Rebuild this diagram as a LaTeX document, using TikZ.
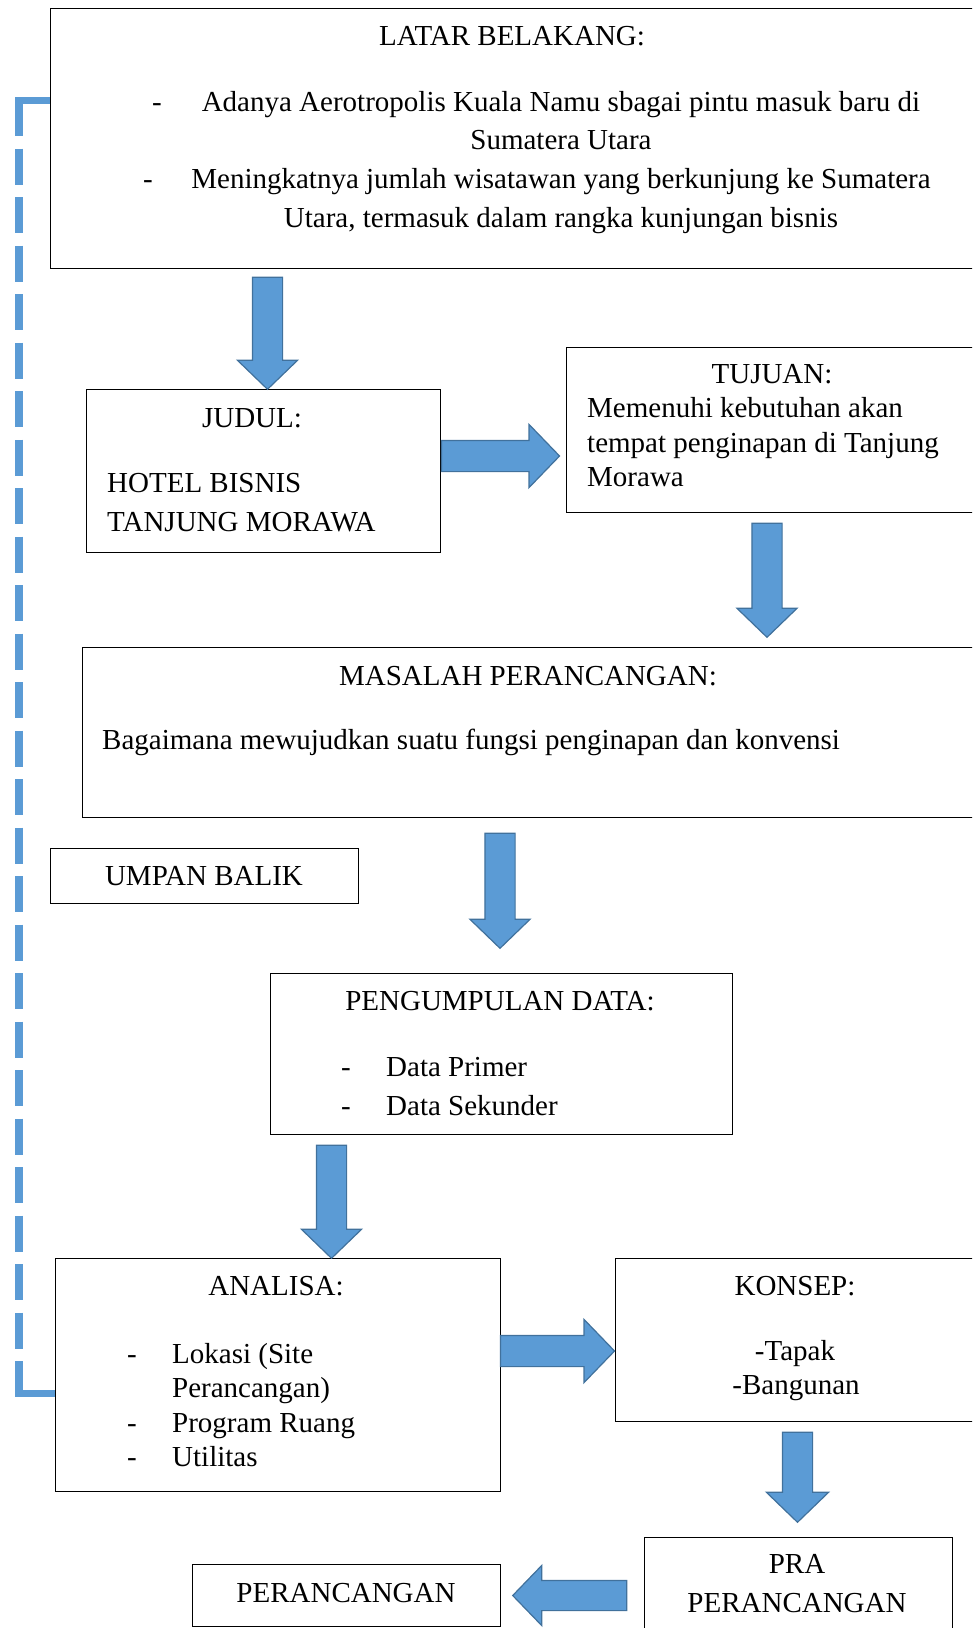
\documentclass[tikz,border=0pt]{standalone}
\usepackage{fontspec}
\setmainfont{Liberation Serif}
\usetikzlibrary{shapes.arrows}

\definecolor{panah}{HTML}{5B9BD5}
\definecolor{panahtepi}{HTML}{41719C}

\begin{document}
\fontsize{29}{38.7}\selectfont
\begin{tikzpicture}[x=1pt, y=-1pt,
  blok/.style={rectangle, draw, line width=1.2pt, inner sep=0pt, anchor=north west},
  teks/.style={inner sep=0pt, anchor=base},
  kiri/.style={inner sep=0pt, anchor=base west},
  panahblok/.style={single arrow, fill=panah, draw=panahtepi, line width=1.2pt,
    inner xsep=0pt, inner ysep=14.5pt, single arrow head extend=15pt, single arrow tip angle=92},
  balik/.style={draw=panah, line width=8pt}
]
  \useasboundingbox (0,0) rectangle (972,1628);
  \clip (0,0) rectangle (972,1628);

  % kotak
  \node[blok, minimum width=940pt, minimum height=260pt] (latar) at (50,8) {};
  \node[blok, minimum width=354.5pt, minimum height=163pt] (judul) at (85.5,389) {};
  \node[blok, minimum width=420pt, minimum height=165pt] (tujuan) at (566,347) {};
  \node[blok, minimum width=905pt, minimum height=170pt] (masalah) at (82,647) {};
  \node[blok, minimum width=308pt, minimum height=55pt] (umpan) at (50,848) {};
  \node[blok, minimum width=461.5pt, minimum height=161pt] (data) at (270,973) {};
  \node[blok, minimum width=445.5pt, minimum height=233pt] (analisa) at (54.5,1258) {};
  \node[blok, minimum width=370pt, minimum height=163pt] (konsep) at (615,1258) {};
  \node[blok, minimum width=308pt, minimum height=110pt] (pra) at (643.5,1537) {};
  \node[blok, minimum width=308pt, minimum height=62pt] (rancang) at (192,1564) {};

  % isi kotak
  \node[teks] (latarJ) at (512,45) {LATAR BELAKANG:};
  \node[teks] (latar1) at (561,111) {Adanya Aerotropolis Kuala Namu sbagai pintu masuk baru di};
  \node[teks] (latar2) at (561,149) {Sumatera Utara};
  \node[teks] (latar3) at (561,188) {Meningkatnya jumlah wisatawan yang berkunjung ke Sumatera};
  \node[teks] (latar4) at (561,227) {Utara, termasuk dalam rangka kunjungan bisnis};
  \node[kiri] (latarS1) at (152,111) {-};
  \node[kiri] (latarS2) at (143,188) {-};

  \node[teks] (judulJ) at (252,427) {JUDUL:};
  \node[kiri] (judul1) at (107,492) {HOTEL BISNIS};
  \node[kiri] (judul2) at (107,531) {TANJUNG MORAWA};

  \node[teks] (tujuanJ) at (772,383) {TUJUAN:};
  \node[kiri] (tujuan1) at (587,417) {Memenuhi kebutuhan akan};
  \node[kiri] (tujuan2) at (587,452) {tempat penginapan di Tanjung};
  \node[kiri] (tujuan3) at (587,486) {Morawa};

  \node[teks] (masalahJ) at (528,685) {MASALAH PERANCANGAN:};
  \node[kiri] (masalah1) at (102,749) {Bagaimana mewujudkan suatu fungsi penginapan dan konvensi};

  \node[teks] (umpanJ) at (204,885) {UMPAN BALIK};

  \node[teks] (dataJ) at (500,1010) {PENGUMPULAN DATA:};
  \node[kiri] (dataS1) at (341,1076) {-};
  \node[kiri] (data1) at (386,1076) {Data Primer};
  \node[kiri] (dataS2) at (341,1115) {-};
  \node[kiri] (data2) at (386,1115) {Data Sekunder};

  \node[teks] (analisaJ) at (276,1295) {ANALISA:};
  \node[kiri] (analisaS1) at (127,1363) {-};
  \node[kiri] (analisa1) at (172,1363) {Lokasi (Site};
  \node[kiri] (analisa2) at (172,1397) {Perancangan)};
  \node[kiri] (analisaS2) at (127,1432) {-};
  \node[kiri] (analisa3) at (172,1432) {Program Ruang};
  \node[kiri] (analisaS3) at (127,1466) {-};
  \node[kiri] (analisa4) at (172,1466) {Utilitas};

  \node[teks] (konsepJ) at (795,1295) {KONSEP:};
  \node[teks] (konsep1) at (795,1360) {-Tapak};
  \node[teks] (konsep2) at (796,1394) {-Bangunan};

  \node[teks] (pra1) at (797,1573) {PRA};
  \node[teks] (pra2) at (797,1612) {PERANCANGAN};

  \node[teks] (rancangJ) at (346,1602) {PERANCANGAN};

  % panah
  \node[panahblok, rotate=-90, minimum height=112pt] (arrA) at (267.5,326) {};
  \node[panahblok, minimum height=118pt, inner ysep=15pt, single arrow head extend=16pt] (arrB) at (493,456) {};
  \node[panahblok, rotate=-90, minimum height=114pt] (arrC) at (767,573) {};
  \node[panahblok, rotate=-90, minimum height=115pt] (arrD) at (500,883.5) {};
  \node[panahblok, rotate=-90, minimum height=113pt] (arrE) at (331.5,1194.5) {};
  \node[panahblok, minimum height=114pt, inner ysep=15pt, single arrow head extend=16pt] (arrF) at (550,1351) {};
  \node[panahblok, rotate=-90, minimum height=90pt, single arrow head extend=16pt] (arrG) at (797.5,1470) {};
  \node[panahblok, rotate=180, minimum height=114pt] (arrH) at (577,1595.5) {};

  % umpan balik
  \coordinate (fbAtas) at (50,100);
  \coordinate (fbBawah) at (54.5,1393);
  \draw[balik, dash pattern=on 36pt off 12.5pt] (19,100) -- (19,1393);
  \draw[balik, line width=7pt] (fbAtas) -- (15,100);
  \draw[balik, line width=7pt] (15,1393) -- (fbBawah);
\end{tikzpicture}
\end{document}
